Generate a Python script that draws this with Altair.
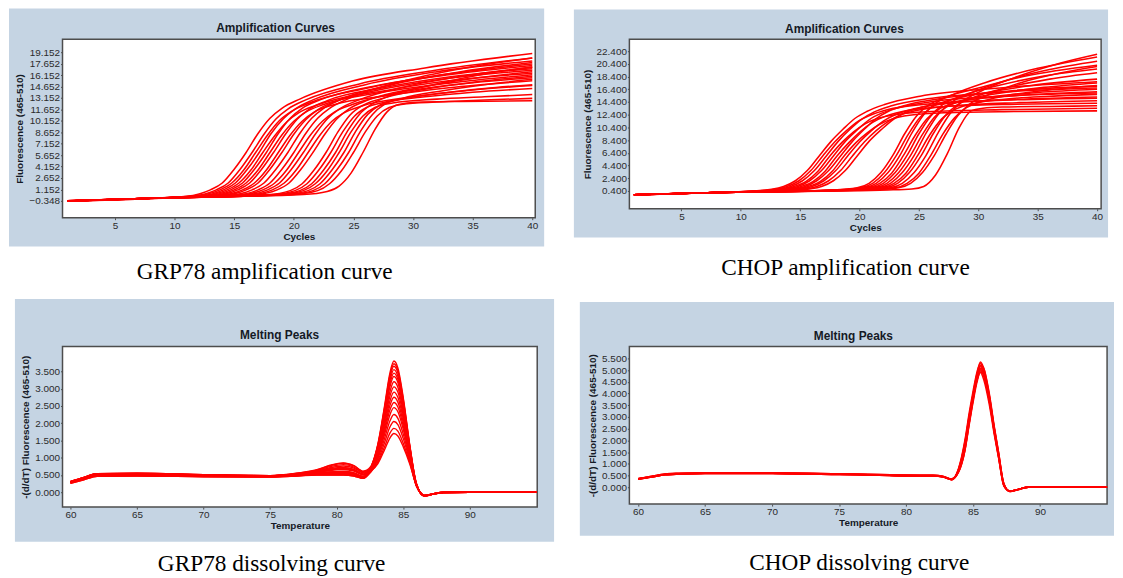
import altair as alt
import pandas as pd

# ---------------- data ----------------
AMP_X_TICKS = [5, 10, 15, 20, 25, 30, 35, 40]
MELT_X_TICKS = [60, 65, 70, 75, 80, 85, 90]
GRP78_AMP_Y_TICKS = [-0.348, 1.152, 2.652, 4.152, 5.652, 7.152, 8.652, 10.152,
                     11.652, 13.152, 14.652, 16.152, 17.652, 19.152]
CHOP_AMP_Y_TICKS = [0.4, 2.4, 4.4, 6.4, 8.4, 10.4, 12.4, 14.4, 16.4, 18.4, 20.4, 22.4]
GRP78_MELT_Y_TICKS = [0.0, 0.5, 1.0, 1.5, 2.0, 2.5, 3.0, 3.5]
CHOP_MELT_Y_TICKS = [0.0, 0.5, 1.0, 1.5, 2.0, 2.5, 3.0, 3.5, 4.0, 4.5, 5.0, 5.5]

# GRP78 amplification curves: [cycle, fluorescence] points per sample
GRP78_AMP = [
    [[1,-0.35],[8,-0.02],[11,0.25],[13,1.1],[14,2.0],[15,3.8],[16,6.0],[17,8.5],[18,10.5],[19,11.8],[20.5,13.0],[25,15.4],[31,17.1],[40,19.0]],
    [[1,-0.33],[8,0.0],[11.5,0.28],[13.5,1.1],[14.5,2.0],[15.5,3.8],[16.5,6.0],[17.5,8.4],[18.5,10.4],[19.5,11.7],[21,12.9],[25.5,15.0],[31.5,16.7],[40,18.4]],
    [[1,-0.36],[8,-0.03],[11.8,0.3],[13.8,1.1],[14.8,2.0],[15.8,3.7],[16.8,6.0],[17.8,8.3],[18.8,10.2],[19.8,11.4],[21.3,12.5],[26,14.4],[32,16.1],[40,17.6]],
    [[1,-0.34],[8,0.0],[12.1,0.3],[14.1,1.1],[15.1,2.0],[16.1,3.8],[17.1,6.0],[18.1,8.5],[19.1,10.4],[20.1,11.7],[21.6,12.9],[26,14.9],[32,16.6],[40,18.0]],
    [[1,-0.35],[8,-0.01],[12.4,0.32],[14.4,1.1],[15.4,2.0],[16.4,3.7],[17.4,6.0],[18.4,8.2],[19.4,10.0],[20.4,11.2],[21.9,12.2],[26.5,14.0],[32,15.5],[40,16.8]],
    [[1,-0.35],[8,0.0],[12.7,0.33],[14.7,1.1],[15.7,2.0],[16.7,3.8],[17.7,6.0],[18.7,8.5],[19.7,10.5],[20.7,11.8],[22.2,12.9],[27,14.8],[33,16.2],[40,17.4]],
    [[1,-0.34],[8,0.0],[13,0.34],[15,1.1],[16,2.0],[17,3.7],[18,6.0],[19,8.3],[20,10.1],[21,11.3],[22.5,12.3],[27,13.8],[33,15.1],[40,16.2]],
    [[1,-0.35],[8,-0.02],[13.3,0.35],[15.3,1.1],[16.3,2.0],[17.3,3.8],[18.3,6.0],[19.3,8.4],[20.3,10.4],[21.3,11.7],[22.8,12.8],[27.5,14.5],[33,15.9],[40,17.0]],
    [[1,-0.35],[8,0.0],[13.7,0.36],[15.7,1.1],[16.7,2.0],[17.7,3.7],[18.7,6.0],[19.7,8.3],[20.7,10.1],[21.7,11.3],[23.2,12.2],[28,13.5],[33,14.5],[40,15.4]],
    [[1,-0.36],[8,-0.01],[14,0.37],[16,1.1],[17,2.0],[18,3.8],[19,6.0],[20,8.4],[21,10.3],[22,11.6],[23.5,12.7],[28,14.2],[33,15.4],[40,16.4]],
    [[1,-0.35],[8,0.0],[14.5,0.38],[16.5,1.1],[17.5,2.0],[18.5,3.8],[19.5,6.0],[20.5,8.5],[21.5,10.5],[22.5,11.8],[24,13.0],[28.5,15.0],[34,16.6],[40,17.8]],
    [[1,-0.34],[8,0.0],[15,0.4],[17,1.1],[18,2.0],[19,3.8],[20,6.0],[21,8.5],[22,10.5],[23,11.8],[24.5,13.0],[29,15.3],[34,17.0],[40,18.4]],
    [[1,-0.35],[8,-0.01],[15.4,0.4],[17.4,1.1],[18.4,2.0],[19.4,3.7],[20.4,6.0],[21.4,8.3],[22.4,10.1],[23.4,11.3],[24.9,12.3],[29,13.9],[34,15.0],[40,15.8]],
    [[1,-0.35],[8,0.0],[15.8,0.41],[17.8,1.1],[18.8,2.0],[19.8,3.8],[20.8,6.0],[21.8,8.4],[22.8,10.4],[23.8,11.7],[25.3,12.8],[29.5,14.7],[34.5,16.1],[40,17.2]],
    [[1,-0.35],[8,-0.02],[16.2,0.42],[18.2,1.1],[19.2,2.0],[20.2,3.7],[21.2,6.0],[22.2,8.3],[23.2,10.1],[24.2,11.2],[25.7,12.1],[30,13.3],[35,14.2],[40,14.8]],
    [[1,-0.35],[8,0.0],[16.6,0.43],[18.6,1.1],[19.6,2.0],[20.6,3.8],[21.6,6.0],[22.6,8.4],[23.6,10.4],[24.6,11.7],[26.1,12.8],[30.5,14.5],[35,15.7],[40,16.6]],
    [[1,-0.35],[8,0.0],[17.7,0.45],[19.7,1.0],[20.7,1.9],[21.7,3.7],[22.7,6.0],[23.7,8.7],[24.7,10.9],[25.7,12.1],[27.2,13.0],[31,14.3],[35,15.2],[40,16.0]],
    [[1,-0.34],[8,0.0],[18.1,0.46],[20.1,1.0],[21.1,1.9],[22.1,3.7],[23.1,6.0],[24.1,8.7],[25.1,10.8],[26.1,11.9],[27.6,12.6],[31,13.3],[35,13.9],[40,14.4]],
    [[1,-0.35],[8,-0.01],[18.5,0.47],[20.5,1.0],[21.5,1.9],[22.5,3.7],[23.5,6.0],[24.5,8.8],[25.5,11.0],[26.5,12.3],[28,13.4],[32,15.0],[36,16.3],[40,17.2]],
    [[1,-0.35],[8,0.0],[18.8,0.47],[20.8,1.0],[21.8,1.9],[22.8,3.6],[23.8,6.0],[24.8,8.7],[25.8,10.8],[26.8,11.9],[28.3,12.5],[32,13.0],[36,13.3],[40,13.6]],
    [[1,-0.35],[8,0.0],[19.2,0.48],[21.2,1.0],[22.2,1.9],[23.2,3.7],[24.2,6.0],[25.2,8.8],[26.2,11.0],[27.2,12.2],[28.7,12.9],[32,13.7],[36,14.4],[40,14.9]],
    [[1,-0.34],[8,0.0],[19.6,0.49],[21.6,1.0],[22.6,1.9],[23.6,3.7],[24.6,6.0],[25.6,8.8],[26.6,11.0],[27.6,12.3],[29.1,13.1],[32.5,14.1],[36,14.9],[40,15.6]],
    [[1,-0.35],[8,-0.01],[20,0.5],[22,1.0],[23,1.9],[24,3.6],[25,6.0],[26,8.7],[27,10.8],[28,11.9],[29.5,12.4],[33,12.7],[36,12.9],[40,13.1]],
    [[1,-0.35],[8,0.0],[20.8,0.5],[22.8,0.9],[23.8,1.6],[24.8,3.3],[25.8,6.0],[26.8,9.0],[27.8,11.3],[28.8,12.3],[30.3,12.6],[34,12.7],[40,12.8]],
]

# CHOP amplification curves
CHOP_AMP = [
    [[1,-0.2],[8,0.15],[11.6,0.45],[12.6,0.65],[13.6,1.1],[14.6,2.0],[15.6,3.6],[16.6,5.9],[17.6,8.2],[18.6,10.1],[19.6,11.8],[20.6,12.9],[22.1,14.0],[25.1,15.3],[31,16.5],[40,17.6]],
    [[1,-0.22],[8,0.14],[11.9,0.45],[12.9,0.65],[13.9,1.1],[14.9,2.0],[15.9,3.6],[16.9,5.9],[17.9,8.1],[18.9,9.9],[19.9,11.4],[20.9,12.3],[22.4,13.2],[25.4,14.0],[31,14.6],[40,15.0]],
    [[1,-0.2],[8,0.15],[12.2,0.46],[13.2,0.66],[14.2,1.1],[15.2,2.0],[16.2,3.6],[17.2,5.9],[18.2,8.2],[19.2,10.1],[20.2,11.7],[21.2,12.8],[22.7,13.8],[25.7,14.9],[31.5,15.9],[40,16.6]],
    [[1,-0.21],[8,0.15],[12.5,0.46],[13.5,0.66],[14.5,1.1],[15.5,1.9],[16.5,3.5],[17.5,5.9],[18.5,8.0],[19.5,9.7],[20.5,11.0],[21.5,11.8],[23,12.4],[26,12.9],[32,13.2],[40,13.4]],
    [[1,-0.2],[8,0.16],[12.8,0.47],[13.8,0.67],[14.8,1.1],[15.8,2.0],[16.8,3.6],[17.8,5.9],[18.8,8.2],[19.8,10.0],[20.8,11.6],[21.8,12.6],[23.3,13.5],[26.3,14.5],[32,15.3],[40,15.8]],
    [[1,-0.22],[8,0.14],[13.1,0.47],[14.1,0.67],[15.1,1.1],[16.1,1.9],[17.1,3.5],[18.1,5.9],[19.1,8.0],[20.1,9.8],[21.1,11.2],[22.1,12.1],[23.6,12.9],[26.6,13.6],[32,14.0],[40,14.2]],
    [[1,-0.2],[8,0.15],[13.4,0.48],[14.4,0.68],[15.4,1.1],[16.4,2.0],[17.4,3.6],[18.4,5.9],[19.4,8.2],[20.4,10.1],[21.4,11.8],[22.4,12.9],[23.9,13.9],[27,15.0],[33,16.2],[40,16.9]],
    [[1,-0.21],[8,0.15],[13.7,0.48],[14.7,0.68],[15.7,1.1],[16.7,1.9],[17.7,3.5],[18.7,5.9],[19.7,8.0],[20.7,9.6],[21.7,10.9],[22.7,11.7],[24.2,12.3],[27.2,12.7],[33,12.9],[40,13.0]],
    [[1,-0.2],[8,0.16],[14,0.49],[15,0.69],[16,1.1],[17,2.0],[18,3.6],[19,5.9],[20,8.1],[21,9.9],[22,11.4],[23,12.4],[24.5,13.3],[27.5,14.2],[33,14.8],[40,15.2]],
    [[1,-0.21],[8,0.15],[14.4,0.5],[15.4,0.7],[16.4,1.1],[17.4,2.0],[18.4,3.6],[19.4,5.9],[20.4,8.1],[21.4,9.9],[22.4,11.3],[23.4,12.3],[24.9,13.1],[28,13.8],[33.5,14.3],[40,14.6]],
    [[1,-0.2],[8,0.15],[14.8,0.5],[15.8,0.7],[16.8,1.1],[17.8,2.0],[18.8,3.6],[19.8,5.9],[20.8,8.2],[21.8,10.0],[22.8,11.6],[23.8,12.7],[25.3,13.6],[28.5,14.6],[34,15.5],[40,16.0]],
    [[1,-0.2],[8,0.15],[17.8,0.55],[19.8,0.9],[20.8,1.6],[21.8,3.3],[22.8,6.0],[23.8,9.4],[24.8,12.2],[25.8,13.9],[27.3,15.2],[30,16.6],[34,18.5],[40,20.2]],
    [[1,-0.21],[8,0.15],[18.1,0.55],[20.1,0.9],[21.1,1.6],[22.1,3.3],[23.1,6.0],[24.1,9.3],[25.1,12.0],[26.1,13.6],[27.6,14.7],[30.5,15.8],[34.5,17.0],[40,18.0]],
    [[1,-0.2],[8,0.16],[18.4,0.56],[20.4,0.9],[21.4,1.6],[22.4,3.3],[23.4,6.0],[24.4,9.5],[25.4,12.4],[26.4,14.2],[27.9,15.6],[30.5,17.4],[35,19.7],[40,21.5]],
    [[1,-0.21],[8,0.15],[18.7,0.56],[20.7,0.9],[21.7,1.6],[22.7,3.2],[23.7,6.0],[24.7,9.2],[25.7,11.8],[26.7,13.3],[28.2,14.3],[31,15.2],[35,15.9],[40,16.4]],
    [[1,-0.2],[8,0.15],[19,0.57],[21,0.9],[22,1.6],[23,3.3],[24,6.0],[25,9.4],[26,12.2],[27,14.0],[28.5,15.3],[31.5,16.9],[35.5,18.5],[40,19.6]],
    [[1,-0.22],[8,0.14],[19.3,0.57],[21.3,0.9],[22.3,1.6],[23.3,3.3],[24.3,6.0],[25.3,9.3],[26.3,12.0],[27.3,13.6],[28.8,14.7],[31.5,15.7],[35.5,16.7],[40,17.4]],
    [[1,-0.2],[8,0.15],[19.6,0.58],[21.6,0.9],[22.6,1.6],[23.6,3.3],[24.6,6.0],[25.6,9.5],[26.6,12.4],[27.6,14.2],[29.1,15.6],[32,17.6],[36,19.5],[40,20.8]],
    [[1,-0.21],[8,0.15],[19.9,0.58],[21.9,0.9],[22.9,1.6],[23.9,3.2],[24.9,6.0],[25.9,9.2],[26.9,11.7],[27.9,13.1],[29.4,14.1],[32,14.8],[36,15.3],[40,15.6]],
    [[1,-0.2],[8,0.16],[20.2,0.59],[22.2,0.9],[23.2,1.6],[24.2,3.3],[25.2,6.0],[26.2,9.4],[27.2,12.2],[28.2,13.9],[29.7,15.2],[32.5,16.7],[36,18.0],[40,19.0]],
    [[1,-0.21],[8,0.15],[20.6,0.6],[22.6,0.9],[23.6,1.6],[24.6,3.3],[25.6,6.0],[26.6,9.5],[27.6,12.5],[28.6,14.4],[30,15.9],[33,18.2],[36.5,20.3],[40,21.9]],
    [[1,-0.2],[8,0.15],[21,0.6],[23,0.9],[24,1.6],[25,3.2],[26,6.0],[27,9.3],[28,11.9],[29,13.5],[30.5,14.6],[33,15.6],[36.5,16.4],[40,17.0]],
    [[1,-0.21],[8,0.15],[21.3,0.6],[23.3,0.9],[24.3,1.6],[25.3,3.3],[26.3,6.0],[27.3,9.4],[28.3,12.3],[29.3,14.1],[30.8,15.5],[33.5,17.4],[37,19.0],[40,20.0]],
    [[1,-0.2],[8,0.15],[22.4,0.55],[24.4,0.7],[25.4,1.1],[26.4,2.9],[27.4,6.3],[28.4,10.4],[29.4,13.0],[30.4,13.4],[32,13.6],[36,13.7],[40,13.8]],
]

# GRP78 melting peaks: shared temperatures, one value list per sample
GRP78_MELT_T = [60, 61, 62, 65, 70, 75, 77, 78.5, 79.5, 80.5, 81.3, 82.0, 82.6, 83.1,
                83.6, 84.0, 84.3, 84.6, 85.0, 85.5, 86.0, 86.6, 87.3, 88.0, 90, 95]
GRP78_MELT = [
    [0.29,0.40,0.51,0.52,0.49,0.47,0.50, 0.53,0.55,0.55,0.52,0.43, 0.75,1.40,2.50,3.45,3.80,3.60,2.75,1.35, 0.24,-0.11,-0.05,-0.01,0.00,0.00],
    [0.31,0.43,0.54,0.55,0.51,0.48,0.51, 0.55,0.59,0.60,0.56,0.46, 0.74,1.38,2.45,3.38,3.72,3.53,2.70,1.33, 0.24,-0.11,-0.05,-0.01,0.00,0.00],
    [0.30,0.42,0.53,0.54,0.50,0.48,0.55, 0.65,0.78,0.85,0.77,0.61, 0.76,1.36,2.41,3.32,3.65,3.46,2.65,1.31, 0.24,-0.11,-0.05,-0.01,0.00,0.00],
    [0.27,0.38,0.48,0.49,0.46,0.45,0.48, 0.50,0.50,0.50,0.47,0.40, 0.73,1.33,2.35,3.23,3.55,3.36,2.58,1.29, 0.24,-0.11,-0.05,-0.01,0.00,0.00],
    [0.29,0.40,0.51,0.52,0.49,0.47,0.53, 0.60,0.68,0.72,0.66,0.53, 0.72,1.30,2.29,3.14,3.45,3.27,2.51,1.26, 0.21,-0.10,-0.05,-0.01,0.00,0.00],
    [0.28,0.39,0.50,0.50,0.47,0.46,0.49, 0.54,0.57,0.58,0.54,0.45, 0.72,1.28,2.23,3.05,3.35,3.18,2.44,1.23, 0.21,-0.10,-0.05,-0.01,0.00,0.00],
    [0.31,0.43,0.54,0.55,0.51,0.48,0.54, 0.63,0.74,0.80,0.73,0.58, 0.72,1.24,2.14,2.91,3.20,3.04,2.34,1.20, 0.21,-0.10,-0.05,-0.01,0.00,0.00],
    [0.26,0.36,0.46,0.47,0.45,0.44,0.47, 0.51,0.52,0.52,0.49,0.41, 0.69,1.20,2.05,2.78,3.05,2.90,2.24,1.16, 0.21,-0.10,-0.05,-0.01,0.00,0.00],
    [0.30,0.42,0.53,0.54,0.50,0.48,0.52, 0.57,0.63,0.66,0.61,0.50, 0.68,1.15,1.95,2.64,2.90,2.75,2.14,1.12, 0.21,-0.10,-0.05,-0.01,0.00,0.00],
    [0.29,0.40,0.51,0.52,0.49,0.47,0.53, 0.61,0.71,0.76,0.70,0.56, 0.69,1.11,1.86,2.51,2.75,2.61,2.03,1.08, 0.21,-0.10,-0.05,-0.01,0.00,0.00],
    [0.27,0.38,0.48,0.49,0.46,0.45,0.48, 0.53,0.55,0.55,0.52,0.43, 0.66,1.07,1.77,2.38,2.60,2.47,1.93,1.04, 0.18,-0.09,-0.04,0.00,0.00,0.00],
    [0.28,0.39,0.50,0.50,0.47,0.46,0.50, 0.58,0.65,0.68,0.63,0.51, 0.65,1.03,1.68,2.24,2.45,2.33,1.83,1.00, 0.18,-0.09,-0.04,0.00,0.00,0.00],
    [0.31,0.43,0.54,0.55,0.51,0.48,0.51, 0.55,0.59,0.60,0.56,0.46, 0.63,0.98,1.56,2.06,2.25,2.14,1.69,0.95, 0.18,-0.09,-0.04,0.00,0.00,0.00],
    [0.30,0.42,0.53,0.54,0.50,0.48,0.55, 0.64,0.77,0.84,0.76,0.60, 0.68,0.92,1.44,1.89,2.05,1.96,1.56,0.90, 0.18,-0.09,-0.04,0.00,0.00,0.00],
    [0.26,0.36,0.46,0.47,0.45,0.44,0.47, 0.50,0.50,0.50,0.47,0.40, 0.60,0.87,1.32,1.71,1.85,1.77,1.42,0.85, 0.18,-0.09,-0.04,0.00,0.00,0.00],
    [0.29,0.40,0.51,0.52,0.49,0.47,0.52, 0.59,0.66,0.70,0.65,0.52, 0.62,0.83,1.23,1.57,1.70,1.63,1.32,0.81, 0.18,-0.09,-0.04,0.00,0.00,0.00],
]

# CHOP melting peaks
CHOP_MELT_T = [60, 61, 62, 63, 65, 70, 75, 78, 80, 82, 82.8, 83.4, 83.9, 84.4, 84.7, 85.0,
               85.3, 85.55, 85.8, 86.2, 86.6, 86.9, 87.3, 87.75, 88.3, 89.1, 92, 95]
CHOP_MELT = [
    [0.36,0.45,0.55,0.58,0.60,0.60,0.56,0.53,0.50,0.50,0.45,0.34, 0.72,1.90,3.00,4.00,4.88,5.35,5.08,3.98,2.45,1.42,0.10, -0.17,-0.10,0.00,0.01,0.00],
    [0.34,0.43,0.53,0.56,0.58,0.58,0.54,0.51,0.48,0.48,0.43,0.32, 0.78,2.05,3.15,4.12,4.95,5.30,4.95,3.80,2.30,1.30,0.05, -0.16,-0.10,0.00,0.01,0.00],
    [0.37,0.47,0.57,0.60,0.62,0.62,0.58,0.55,0.52,0.51,0.46,0.36, 0.62,1.60,2.70,3.75,4.70,5.22,5.08,4.05,2.55,1.52,0.16, -0.18,-0.11,0.00,0.01,0.00],
    [0.35,0.44,0.54,0.57,0.59,0.59,0.55,0.52,0.49,0.49,0.44,0.33, 0.70,1.78,2.85,3.85,4.72,5.20,4.92,3.85,2.38,1.38,0.10, -0.17,-0.10,0.00,0.01,0.00],
    [0.36,0.45,0.55,0.58,0.60,0.60,0.56,0.53,0.50,0.50,0.45,0.34, 0.76,1.98,3.05,3.98,4.82,5.15,4.82,3.70,2.25,1.28,0.06, -0.16,-0.10,0.00,0.01,0.00],
    [0.34,0.43,0.53,0.56,0.58,0.58,0.54,0.51,0.48,0.48,0.43,0.32, 0.64,1.62,2.68,3.70,4.60,5.08,4.95,3.95,2.50,1.50,0.15, -0.18,-0.11,0.00,0.01,0.00],
    [0.37,0.47,0.57,0.60,0.62,0.62,0.58,0.55,0.52,0.51,0.46,0.36, 0.70,1.74,2.80,3.78,4.62,5.05,4.78,3.75,2.32,1.36,0.10, -0.17,-0.10,0.00,0.01,0.00],
    [0.35,0.44,0.54,0.57,0.59,0.59,0.55,0.52,0.49,0.49,0.44,0.33, 0.72,1.80,2.84,3.80,4.60,5.00,4.72,3.70,2.30,1.35,0.09, -0.17,-0.10,0.00,0.01,0.00],
    [0.36,0.45,0.55,0.58,0.60,0.60,0.56,0.53,0.50,0.50,0.45,0.34, 0.63,1.58,2.62,3.62,4.50,4.93,4.80,3.85,2.45,1.46,0.14, -0.18,-0.11,0.00,0.01,0.00],
    [0.34,0.43,0.53,0.56,0.58,0.58,0.54,0.51,0.48,0.48,0.43,0.32, 0.74,1.92,2.95,3.84,4.58,4.90,4.58,3.55,2.18,1.25,0.06, -0.16,-0.10,0.00,0.01,0.00],
]

# ---------------- styling ----------------
RED = "#ff0000"
BOX = "#c5d4e3"
FRAME = "#4d4d4d"
DARK = "#151a26"
SANS = "Liberation Sans"
SERIF = "Liberation Serif"
ONE = pd.DataFrame({"k": [0]})


def amp_frame(curves):
    rows = []
    for i, pts in enumerate(curves):
        for j, (x, y) in enumerate(pts):
            rows.append({"curve": i, "o": j, "x": x, "y": y})
    return pd.DataFrame(rows)


def melt_frame(temps, curves):
    rows = []
    for i, ys in enumerate(curves):
        for j, (t, y) in enumerate(zip(temps, ys)):
            rows.append({"curve": i, "o": j, "x": t, "y": y})
    return pd.DataFrame(rows)


def rect(x0, x1, y0, y1, **kw):
    return alt.Chart(ONE).mark_rect(**kw).encode(
        x=alt.value(x0), x2=alt.value(x1), y=alt.value(y0), y2=alt.value(y1))


def label(text, x, y, **kw):
    return alt.Chart(ONE).mark_text(text=text, **kw).encode(x=alt.value(x), y=alt.value(y))


def panel(df, plot, box, cell, xdom, ydom, xticks, yticks, xtitle, ytitle,
          title, title_xy, caption, caption_xy, lw):
    px0, py0, px1, py1 = plot
    w, h = px1 - px0, py1 - py0
    rx = lambda v: v - px0
    ry = lambda v: v - py0
    lines = alt.Chart(df).mark_line(color=RED, strokeWidth=lw, interpolate="monotone").encode(
        x=alt.X("x:Q", scale=alt.Scale(domain=xdom, nice=False, zero=False),
                axis=alt.Axis(values=xticks, format="d", title=xtitle, zindex=2,
                              titlePadding=1)),
        y=alt.Y("y:Q", scale=alt.Scale(domain=ydom, nice=False, zero=False),
                axis=alt.Axis(values=yticks, format=".3f", title=ytitle, zindex=2,
                              titlePadding=4)),
        detail="curve:N",
        order="o:Q",
    )
    return alt.layer(
        rect(rx(cell[0]), rx(cell[2]), ry(cell[1]), ry(cell[3]), fill="white", opacity=0),
        rect(rx(box[0]), rx(box[2]), ry(box[1]), ry(box[3]), fill=BOX),
        rect(0, w, 0, h, fill="white", stroke=FRAME, strokeWidth=1.5),
        lines,
        label(title, rx(title_xy[0]), ry(title_xy[1]), font=SANS, fontSize=12,
              fontWeight="bold", color=DARK, align="center", baseline="middle"),
        label(caption, rx(caption_xy[0]), ry(caption_xy[1]), font=SERIF, fontSize=23.5,
              color="black", align="center", baseline="middle"),
    ).properties(width=w, height=h)


# layout (pixels): plot area, blue box, placement cell, title and caption centres
p1 = panel(amp_frame(GRP78_AMP), (62, 39, 539, 219), (8, 8, 548, 248), (8, 8, 562, 290),
           [0.6, 40.25], [-2.55, 20.85], AMP_X_TICKS, GRP78_AMP_Y_TICKS,
           "Cycles", "Fluorescence  (465-510)", "Amplification Curves", (277, 28),
           "GRP78 amplification curve", (266, 274), 1.55)
p2 = panel(amp_frame(CHOP_AMP), (632, 43, 1108, 214), (576, 13, 1115, 243), (562, 8, 1115, 290),
           [0.62, 40.34], [-2.41, 24.27], AMP_X_TICKS, CHOP_AMP_Y_TICKS,
           "Cycles", "Fluorescence  (465-510)", "Amplification Curves", (849, 33),
           "CHOP amplification curve", (850, 274), 1.55)
p3 = panel(melt_frame(GRP78_MELT_T, GRP78_MELT), (56, 345, 535, 507), (8, 297, 552, 542),
           (8, 290, 564, 570), [59.4, 95.07], [-0.43, 4.22], MELT_X_TICKS, GRP78_MELT_Y_TICKS,
           "Temperature", "-(d/dT)  Fluorescence  (465-510)", "Melting Peaks", (275, 333),
           "GRP78 dissolving curve", (267, 565), 1.4)
p4 = panel(melt_frame(CHOP_MELT_T, CHOP_MELT), (626, 347, 1108, 506), (576, 302, 1115, 538),
           (564, 290, 1115, 570), [59.35, 95.0], [-0.72, 6.01], MELT_X_TICKS, CHOP_MELT_Y_TICKS,
           "Temperature", "-(d/dT)  Fluorescence  (465-510)", "Melting Peaks", (852, 336),
           "CHOP dissolving curve", (858, 565), 1.4)

row1 = alt.hconcat(p1, p2, spacing=0)
row2 = alt.hconcat(p3, p4, spacing=0)
chart = alt.vconcat(row1, row2, spacing=0).properties(
    padding={"top": -7, "left": 0, "right": 0, "bottom": 0}, background="white"
).configure_view(stroke="transparent").configure_axis(
    domain=False, grid=False, ticks=True, tickSize=2, tickColor=FRAME, tickWidth=1,
    labelFont=SANS, labelFontSize=10, labelColor="#2b2b2b", labelPadding=1,
    labelOverlap=False, labelFlush=False,
    titleFont=SANS, titleFontSize=10, titleFontWeight="bold", titleColor=DARK,
)

chart.save("out.html", embed_options={"renderer": "svg", "actions": False})
